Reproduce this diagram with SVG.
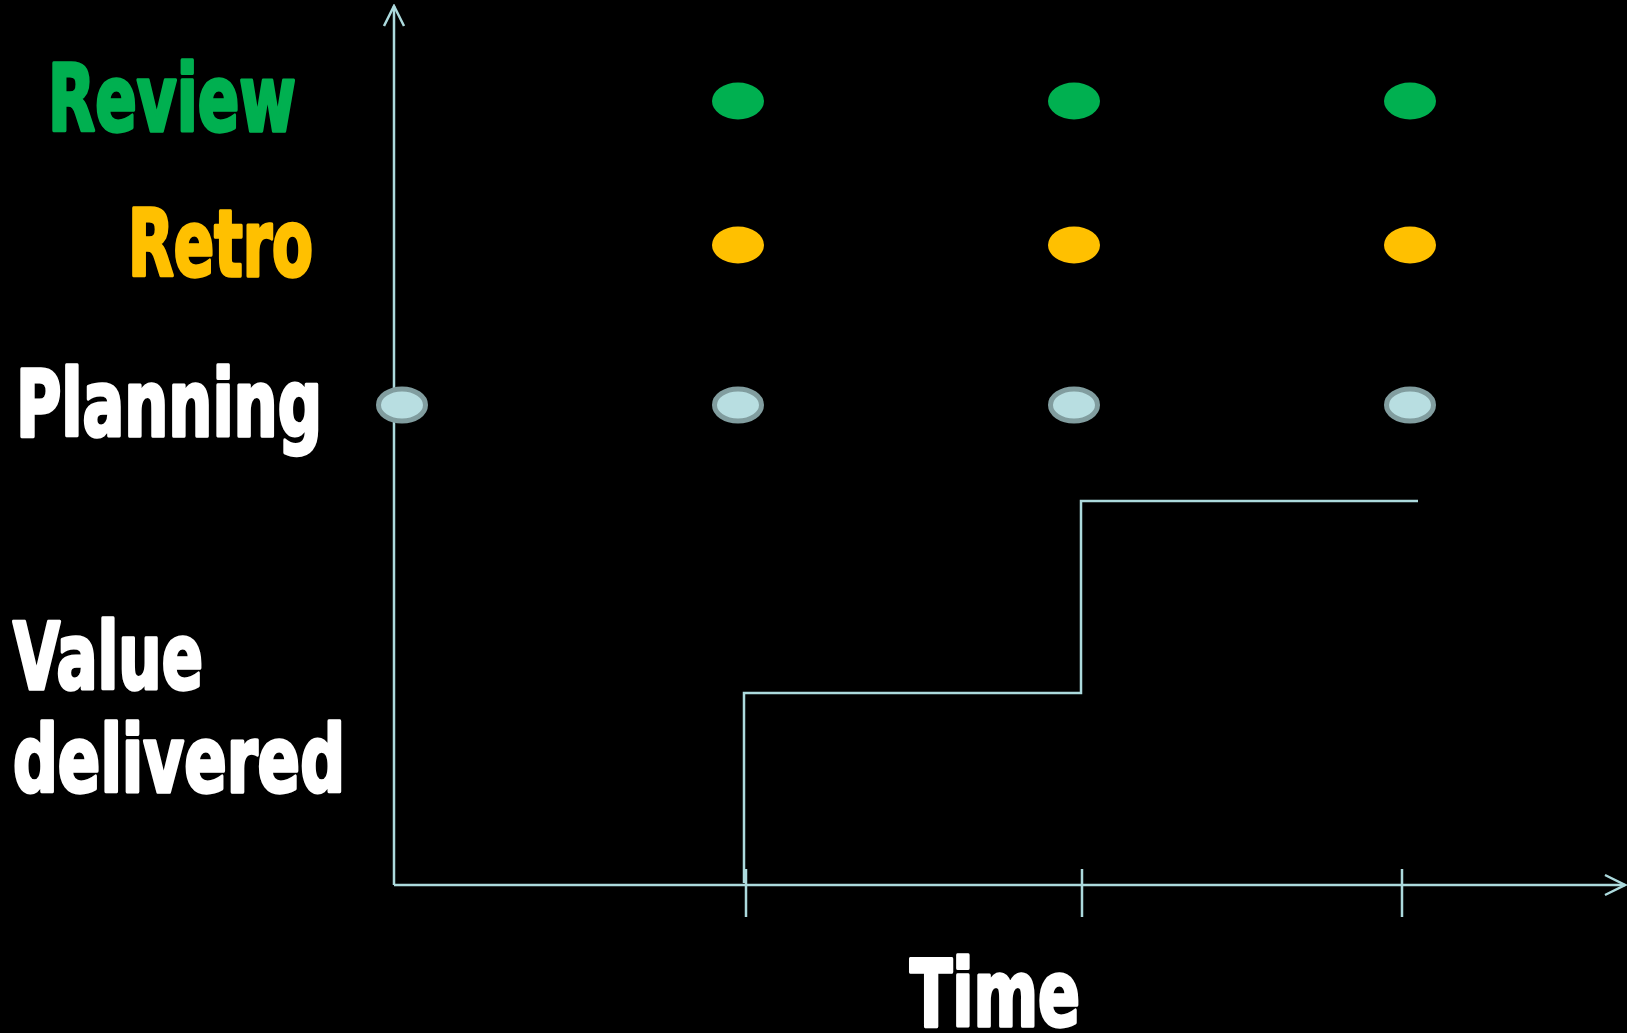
<svg xmlns="http://www.w3.org/2000/svg" width="1627" height="1033" viewBox="0 0 1627 1033">
  <defs>
    <style>
      .label { font-family: "Liberation Sans Narrow", "DejaVu Sans Condensed", "Liberation Sans", sans-serif; font-weight: bold; font-size: 92px; stroke-width: 3.5; stroke-linejoin: round; }
      .axis { stroke: #acdadd; stroke-width: 2.5; fill: none; }
      .step { stroke: #acdadd; stroke-width: 2.5; fill: none; }
      .review { fill: #00b050; }
      .retro { fill: #ffc000; }
      .planning { fill: #b8dee1; stroke: #819d9f; stroke-width: 5; }
    </style>
    <marker id="open-arrow" viewBox="0 0 24 24" refX="22" refY="12" markerWidth="24" markerHeight="24" markerUnits="userSpaceOnUse" orient="auto">
      <path d="M2,2 L22,12 L2,22" fill="none" stroke="#acdadd" stroke-width="2.5"/>
    </marker>
  </defs>

  <rect x="0" y="0" width="1627" height="1033" fill="#000000"/>

  <!-- Row labels -->
  <g id="label-review">
    <text class="label" x="48" y="131" textLength="248" lengthAdjust="spacingAndGlyphs" fill="#00b050" stroke="#00b050">Review</text>
  </g>
  <g id="label-retro">
    <text class="label" x="128" y="276" textLength="185" lengthAdjust="spacingAndGlyphs" fill="#ffc000" stroke="#ffc000">Retro</text>
  </g>
  <g id="label-planning">
    <text class="label" x="16" y="436" textLength="306" lengthAdjust="spacingAndGlyphs" fill="#ffffff" stroke="#ffffff">Planning</text>
  </g>
  <g id="label-value">
    <text class="label" x="13" y="689" textLength="190" lengthAdjust="spacingAndGlyphs" fill="#ffffff" stroke="#ffffff">Value</text>
    <text class="label" x="13" y="792" textLength="332" lengthAdjust="spacingAndGlyphs" fill="#ffffff" stroke="#ffffff">delivered</text>
  </g>
  <g id="label-time">
    <text class="label" x="910" y="1026" textLength="170" lengthAdjust="spacingAndGlyphs" fill="#ffffff" stroke="#ffffff">Time</text>
  </g>

  <!-- Axes, ticks and the value step line -->
  <g id="connectors">
    <line class="axis" x1="394" y1="885" x2="394" y2="6" marker-end="url(#open-arrow)"/>
    <line class="axis" x1="394" y1="885" x2="1625" y2="885" marker-end="url(#open-arrow)"/>
    <line class="axis" x1="746" y1="869" x2="746" y2="917"/>
    <line class="axis" x1="1082" y1="869" x2="1082" y2="917"/>
    <line class="axis" x1="1402" y1="869" x2="1402" y2="917"/>
    <polyline class="step" points="744,883 744,693 1081,693 1081,501 1418,501"/>
  </g>

  <!-- Review events -->
  <g id="review-events">
    <ellipse class="review" cx="738" cy="101" rx="26" ry="18.5"/>
    <ellipse class="review" cx="1074" cy="101" rx="26" ry="18.5"/>
    <ellipse class="review" cx="1410" cy="101" rx="26" ry="18.5"/>
  </g>

  <!-- Retro events -->
  <g id="retro-events">
    <ellipse class="retro" cx="738" cy="245" rx="26" ry="18.5"/>
    <ellipse class="retro" cx="1074" cy="245" rx="26" ry="18.5"/>
    <ellipse class="retro" cx="1410" cy="245" rx="26" ry="18.5"/>
  </g>

  <!-- Planning events -->
  <g id="planning-events">
    <ellipse class="planning" cx="402" cy="405" rx="23.5" ry="16"/>
    <ellipse class="planning" cx="738" cy="405" rx="23.5" ry="16"/>
    <ellipse class="planning" cx="1074" cy="405" rx="23.5" ry="16"/>
    <ellipse class="planning" cx="1410" cy="405" rx="23.5" ry="16"/>
  </g>
</svg>
